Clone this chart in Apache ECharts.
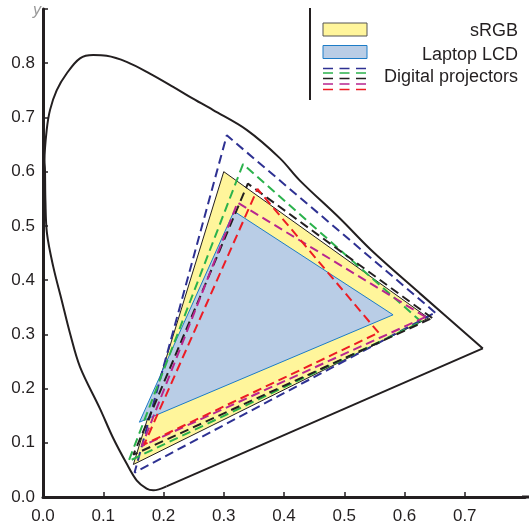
<!DOCTYPE html>
<html>
<head>
<meta charset="utf-8">
<style>
  html, body { margin: 0; padding: 0; background: #ffffff; }
  #chart { width: 529px; height: 526px; }
</style>
<script src="https://cdn.jsdelivr.net/npm/echarts@6/dist/echarts.min.js"></script>
</head>
<body>
<div id="chart"></div>
<script>
// CIE 1931 chromaticity: spectral locus (horseshoe), from the red end round to the violet end
const locusX = [0.730, 0.625, 0.545, 0.4925, 0.426, 0.393, 0.338, 0.2824, 0.2438, 0.216, 0.1774, 0.1388,
  0.1056, 0.0834, 0.0614, 0.0393, 0.0227, 0.0116, 0.0061, 0.0025, 0.0033, 0.0040, 0.0066, 0.0171, 0.031,
  0.0448, 0.0614, 0.0945, 0.1166, 0.1388, 0.1554, 0.172, 0.183, 0.205];
const locusY = [0.274, 0.376, 0.455, 0.514, 0.584, 0.625, 0.677, 0.7135, 0.738, 0.7565, 0.781, 0.8026,
  0.8137, 0.815, 0.809, 0.781, 0.750, 0.7135, 0.6766, 0.621, 0.6028, 0.547, 0.486, 0.4244, 0.363,
  0.302, 0.240, 0.163, 0.1083, 0.0616, 0.0308, 0.0155, 0.0124, 0.0197];

// Gamut primaries as [x, y] chromaticities: red, green, blue
const srgbGamut   = [[0.64, 0.33], [0.30, 0.60], [0.15, 0.06]];
const laptopGamut = [[0.581, 0.336], [0.317, 0.527], [0.160, 0.138]];
const projectorNames = ['Projector A', 'Projector B', 'Projector C', 'Projector D', 'Projector E'];
const projectorGamuts = [
  [[0.651, 0.340], [0.305, 0.667], [0.152, 0.045]],
  [[0.628, 0.323], [0.332, 0.614], [0.142, 0.066]],
  [[0.646, 0.330], [0.340, 0.578], [0.150, 0.078]],
  [[0.635, 0.332], [0.323, 0.543], [0.164, 0.094]],
  [[0.557, 0.303], [0.356, 0.568], [0.168, 0.097]]
];
const projectorColors = ['#2e3192', '#2bb24c', '#231f20', '#b8258f', '#ed1c24'];

const xTicks = [0, 0.1, 0.2, 0.3, 0.4, 0.5, 0.6, 0.7];
const yTicks = [0, 0.1, 0.2, 0.3, 0.4, 0.5, 0.6, 0.7, 0.8, 0.9];
const xMax = 0.8;

const legendLabels = ['sRGB', 'Laptop LCD', 'Digital projectors'];
const yAxisName = 'y';

const ink = '#231f20';
const font = 'Arial, "Liberation Sans", sans-serif';
const chart = echarts.init(document.getElementById('chart'), null, { renderer: 'canvas' });

const locusPts = locusX.map((x, i) => [x, locusY[i]]);
const purpleLine = [locusPts[locusPts.length - 1], locusPts[0]];

function gamutFill(pts, fill, edge) {
  return {
    type: 'custom',
    data: [pts.flat()],
    renderItem: function (params, api) {
      const points = [0, 1, 2].map(k => api.coord([api.value(2 * k), api.value(2 * k + 1)]));
      return {
        type: 'polygon',
        shape: { points: points },
        style: { fill: fill, stroke: edge, lineWidth: 1 }
      };
    },
    silent: true,
    z: 2
  };
}

const series = [
  gamutFill(srgbGamut, '#fff59b', ink),
  gamutFill(laptopGamut, '#b9cde6', '#1c7cc7')
];

projectorGamuts.forEach((g, i) => {
  series.push({
    name: projectorNames[i],
    type: 'line',
    data: g.concat([g[0]]),
    symbol: 'none',
    lineStyle: { color: projectorColors[i], width: 2, type: [9, 5] },
    silent: true,
    z: 3 + i
  });
});

series.push({
  type: 'line',
  data: locusPts,
  smooth: 0.35,
  symbol: 'none',
  lineStyle: { color: ink, width: 2 },
  silent: true,
  z: 10
});
series.push({
  type: 'line',
  data: purpleLine,
  symbol: 'none',
  lineStyle: { color: ink, width: 2 },
  silent: true,
  z: 10
});

// Legend drawn as plain graphics in the upper right corner
const lx = 323, lw = 44;
const legendGraphics = [
  { type: 'line', shape: { x1: 310, y1: 8, x2: 310, y2: 100 }, style: { stroke: ink, lineWidth: 2 } },
  { type: 'rect', shape: { x: lx, y: 23, width: lw, height: 13 }, style: { fill: '#fff59b', stroke: '#555', lineWidth: 1 } },
  { type: 'rect', shape: { x: lx, y: 45.5, width: lw, height: 13 }, style: { fill: '#b9cde6', stroke: '#1c7cc7', lineWidth: 1 } },
  { type: 'text', style: { text: legendLabels[0], x: 518, y: 31, align: 'right', verticalAlign: 'middle', font: '18px ' + font, fill: ink } },
  { type: 'text', style: { text: legendLabels[1], x: 518, y: 55, align: 'right', verticalAlign: 'middle', font: '18px ' + font, fill: ink } },
  { type: 'text', style: { text: legendLabels[2], x: 518, y: 77, align: 'right', verticalAlign: 'middle', font: '18px ' + font, fill: ink } },
  { type: 'text', style: { text: yAxisName, x: 37, y: 11, align: 'center', verticalAlign: 'middle', font: 'italic 16px ' + font, fill: '#9a9a9a' } },
  // x axis line runs on to the right edge of the canvas
  { type: 'line', shape: { x1: 522, y1: 497, x2: 529, y2: 497 }, style: { stroke: ink, lineWidth: 3 } }
];
const rowY = [68.5, 73, 78.5, 84, 89.5];
rowY.forEach((y, i) => {
  legendGraphics.push({
    type: 'line',
    shape: { x1: lx, y1: y, x2: lx + 43, y2: y },
    style: { stroke: projectorColors[i], lineWidth: 1.6, lineDash: [10, 6.5] }
  });
});

chart.setOption({
  animation: false,
  backgroundColor: '#ffffff',
  grid: { left: 43, right: 4, top: 9, bottom: 29, containLabel: false },
  xAxis: {
    type: 'value',
    min: xTicks[0], max: xMax, interval: 0.1,
    axisLine: { onZero: false, lineStyle: { color: ink, width: 3 } },
    axisTick: { inside: true, length: 5, customValues: xTicks, lineStyle: { color: ink, width: 1.5 } },
    axisLabel: {
      margin: 11, color: ink, fontSize: 17, fontFamily: font,
      customValues: xTicks,
      formatter: v => v.toFixed(1)
    },
    splitLine: { show: false }
  },
  yAxis: {
    type: 'value',
    min: yTicks[0], max: yTicks[yTicks.length - 1], interval: 0.1,
    axisLine: { onZero: false, lineStyle: { color: ink, width: 3 } },
    axisTick: { inside: true, length: 5, lineStyle: { color: ink, width: 1.5 } },
    axisLabel: {
      margin: 8, color: ink, fontSize: 17, fontFamily: font,
      formatter: v => (Math.abs(v - 0.9) < 1e-9 ? '' : v.toFixed(1))
    },
    splitLine: { show: false }
  },
  graphic: legendGraphics,
  series: series
});
</script>
</body>
</html>
